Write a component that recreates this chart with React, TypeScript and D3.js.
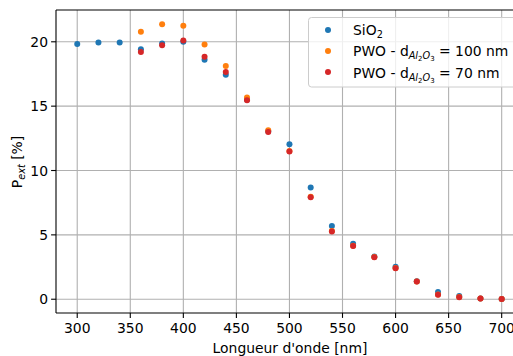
import React from "react";
import * as d3 from "d3";

const wlSiO2 = [300, 320, 340, 360, 380, 400, 420, 440, 460, 480, 500, 520, 540, 560, 580, 600, 620, 640, 660, 680, 700];
const pSiO2 = [19.82, 19.95, 19.95, 19.43, 19.87, 20.0, 18.6, 17.44, 15.5, 13.05, 12.04, 8.68, 5.68, 4.31, 3.31, 2.53, 1.4, 0.57, 0.26, 0.05, 0.02];
const wlPWO = [360, 380, 400, 420, 440, 460, 480, 500, 520, 540, 560, 580, 600, 620, 640, 660, 680, 700];
const pPWO100 = [20.78, 21.37, 21.24, 19.79, 18.11, 15.68, 13.12, 11.52, 7.96, 5.3, 4.15, 3.28, 2.42, 1.38, 0.36, 0.17, 0.05, 0.02];
const pPWO70 = [19.2, 19.74, 20.1, 18.84, 17.65, 15.45, 13.0, 11.47, 7.93, 5.27, 4.13, 3.26, 2.4, 1.37, 0.34, 0.16, 0.05, 0.02];
const xTicks = [300, 350, 400, 450, 500, 550, 600, 650, 700];
const yTicks = [0, 5, 10, 15, 20];

const W = 513, H = 356;
const L = 56, R = 522.9, T = 10, B = 313;
const FONT = "DejaVu Sans";
const FS = 13.9;

export default function App() {
  const x = d3.scaleLinear().domain([280, 720]).range([L, R]);
  const y = d3.scaleLinear().domain([-1.07, 22.47]).range([B, T]);

  const series = [
    { xs: wlSiO2, ys: pSiO2, color: "#1f77b4" },
    { xs: wlPWO, ys: pPWO100, color: "#ff7f0e" },
    { xs: wlPWO, ys: pPWO70, color: "#d62728" },
  ];

  return (
    <svg width={W} height={H} style={{ position: "absolute", left: 0, top: 0, background: "#fff" }} fontFamily={FONT}>
      <rect x={0} y={0} width={W} height={H} fill="#fff" />
      {xTicks.map((t) => (
        <line key={"gx" + t} x1={x(t)} x2={x(t)} y1={T} y2={B} stroke="#b0b0b0" strokeWidth={1.1} />
      ))}
      {yTicks.map((t) => (
        <line key={"gy" + t} x1={L} x2={R} y1={y(t)} y2={y(t)} stroke="#b0b0b0" strokeWidth={1.1} />
      ))}
      {series.map((s, si) => (
        <g key={"s" + si}>
          {s.xs.map((v, i) => (
            <circle key={i} cx={x(v)} cy={y(s.ys[i])} r={3} fill={s.color} />
          ))}
        </g>
      ))}
      <line x1={L} x2={L} y1={T} y2={B} stroke="#000" strokeWidth={1.1} />
      <line x1={L} x2={R} y1={B} y2={B} stroke="#000" strokeWidth={1.1} />
      <line x1={L} x2={R} y1={T} y2={T} stroke="#000" strokeWidth={1.1} />
      <line x1={R} x2={R} y1={T} y2={B} stroke="#000" strokeWidth={1.1} />
      {xTicks.map((t) => (
        <g key={"xt" + t}>
          <line x1={x(t)} x2={x(t)} y1={B} y2={B + 4.9} stroke="#000" strokeWidth={1.1} />
          <text x={x(t)} y={B + 19.5} textAnchor="middle" fontSize={FS} fill="#000">{t}</text>
        </g>
      ))}
      {yTicks.map((t) => (
        <g key={"yt" + t}>
          <line x1={L - 4.9} x2={L} y1={y(t)} y2={y(t)} stroke="#000" strokeWidth={1.1} />
          <text x={L - 8} y={y(t) + 5} textAnchor="end" fontSize={FS} fill="#000">{t}</text>
        </g>
      ))}
      <text x={290} y={353} textAnchor="middle" fontSize={FS} fill="#000">Longueur d'onde [nm]</text>
      <text transform={`translate(21.5, 162) rotate(-90)`} textAnchor="middle" fontSize={FS} fill="#000">
        P<tspan fontStyle="italic" fontSize={FS * 0.7} dy={3}>ext</tspan><tspan dy={-3}> [%]</tspan>
      </text>
      <rect x={308.5} y={17.5} width={210} height={69.5} rx={3} fill="#fff" fillOpacity={0.8} stroke="#cccccc" strokeWidth={1} />
      {[
        { c: "#1f77b4", yy: 30 },
        { c: "#ff7f0e", yy: 51 },
        { c: "#d62728", yy: 72 },
      ].map((e, i) => (
        <circle key={"lg" + i} cx={328} cy={e.yy} r={3} fill={e.c} />
      ))}
      <text x={353} y={35} fontSize={FS} fill="#000">
        SiO<tspan fontSize={FS * 0.7} dy={3}>2</tspan>
      </text>
      {["100", "70"].map((v, i) => (
        <text key={"lt" + v} x={353} y={56 + i * 21.5} fontSize={FS} fill="#000">
          PWO - d
          <tspan fontSize={FS * 0.7} fontStyle="italic" dy={3}>Al</tspan>
          <tspan fontSize={FS * 0.5} dy={2}>2</tspan>
          <tspan fontSize={FS * 0.7} fontStyle="italic" dy={-2}>O</tspan>
          <tspan fontSize={FS * 0.5} dy={2}>3</tspan>
          <tspan dy={-5}>{` = ${v} nm`}</tspan>
        </text>
      ))}
    </svg>
  );
}
